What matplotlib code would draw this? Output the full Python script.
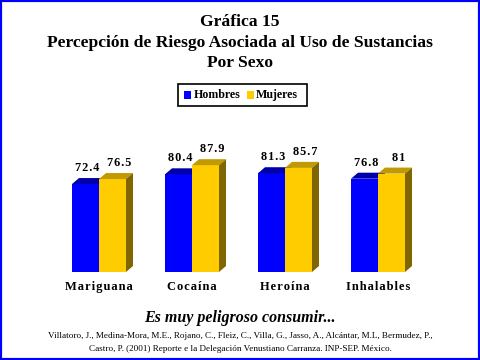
import matplotlib
matplotlib.use("Agg")
import matplotlib.pyplot as plt
from matplotlib.patches import Polygon, Rectangle
from matplotlib.transforms import IdentityTransform
import numpy as np

categories = ["Mariguana", "Cocaína", "Heroína", "Inhalables"]
hombres = [72.4, 80.4, 81.3, 76.8]
mujeres = [76.5, 87.9, 85.7, 81]
series_names = ["Hombres", "Mujeres"]
value_labels_h = ["72.4", "80.4", "81.3", "76.8"]
value_labels_m = ["76.5", "87.9", "85.7", "81"]

front = ["#0000FF", "#FFCC00"]
top = ["#0000AA", "#C09A00"]
side = ["#00008A", "#806600"]

SERIF = "Liberation Serif"
W, H = 480, 360
fig = plt.figure(figsize=(4.8, 3.6), dpi=100)
fig.patch.set_facecolor("white")

def spaced(s):
    return "\u200a".join(list(s))

ax = fig.add_axes([40 / W, (H - 272) / H, 400 / W, 121.5 / H])
ax.set_xlim(-59 / 93, 3 + 62 / 93)
ax.set_ylim(0, 100)
ax.axis("off")

bw = 27 / 93
x = np.arange(len(categories))
DX, DY = 7, 6  # depth in pixels

fig.canvas.draw()
for si, vals in enumerate([hombres, mujeres]):
    xs = x - bw + si * bw
    z = 3 + 2 * si
    ax.bar(xs, vals, width=bw, align="edge", color=front[si], linewidth=0, zorder=z)
    for xi, v in zip(xs, vals):
        p0 = ax.transData.transform((xi, v))
        p1 = ax.transData.transform((xi + bw, v))
        pb = ax.transData.transform((xi + bw, 0))
        topface = [p0, p1, p1 + [DX, DY], p0 + [DX, DY]]
        sideface = [pb, p1, p1 + [DX, DY], pb + [DX, DY]]
        ax.add_patch(Polygon(topface, closed=True, transform=IdentityTransform(),
                             facecolor=top[si], edgecolor="none", zorder=z + 0.5, clip_on=False))
        ax.add_patch(Polygon(sideface, closed=True, transform=IdentityTransform(),
                             facecolor=side[si], edgecolor="none", zorder=z + 0.5, clip_on=False))

# value labels
label_shift = [1.5, 7]
for si, (vals, labs) in enumerate([(hombres, value_labels_h), (mujeres, value_labels_m)]):
    xs = x - bw + si * bw + bw / 2
    for xi, v, lab in zip(xs, vals, labs):
        px, py = ax.transData.transform((xi, v))
        fig.text((px + label_shift[si]) / W, (py + DY + 7) / H, spaced(lab), ha="center",
                 va="baseline", fontsize=8.8, fontweight="bold", family=[SERIF, "DejaVu Sans"])

# category labels
for xi, c in zip(x, categories):
    px, _ = ax.transData.transform((xi, 0))
    fig.text(px / W, (H - 287) / H, spaced(c), ha="center", va="center",
             fontsize=9, fontweight="bold", family=[SERIF, "DejaVu Sans"])

# titles
for yy, t in [(22, "Gráfica 15"),
              (43, "Percepción de Riesgo Asociada al Uso de Sustancias"),
              (63, "Por Sexo")]:
    fig.text(0.5, (H - yy) / H, t, ha="center", va="center", fontsize=12.6,
             fontweight="bold", family=SERIF)

# legend
fig.patches.append(Rectangle((178 / W, (H - 106) / H), 129 / W, 22 / H, transform=fig.transFigure,
                             facecolor="white", edgecolor="black", linewidth=1.2))
fig.patches.append(Rectangle((184 / W, (H - 99) / H), 7 / W, 8 / H, transform=fig.transFigure,
                             facecolor=front[0], edgecolor="none"))
fig.text(194 / W, (H - 95) / H, series_names[0], ha="left", va="center", fontsize=8.6,
         fontweight="bold", family=SERIF)
fig.patches.append(Rectangle((247 / W, (H - 99) / H), 7 / W, 8 / H, transform=fig.transFigure,
                             facecolor=front[1], edgecolor="none"))
fig.text(256 / W, (H - 95) / H, series_names[1], ha="left", va="center", fontsize=8.6,
         fontweight="bold", family=SERIF)

# bottom texts
fig.text(0.5, (H - 318) / H, "Es muy peligroso consumir...", ha="center", va="center",
         fontsize=11.5, fontweight="bold", style="italic", family=SERIF)
fig.text(0.5, (H - 336) / H,
         "Villatoro, J., Medina-Mora, M.E., Rojano, C., Fleiz, C., Villa, G., Jasso, A., Alcántar, M.L, Bermudez, P.,",
         ha="center", va="center", fontsize=6.6, family=SERIF)
fig.text(0.5, (H - 349) / H,
         "Castro, P. (2001) Reporte e la Delegación Venustiano Carranza. INP-SEP. México.",
         ha="center", va="center", fontsize=6.6, family=SERIF)

# blue frame
fig.patches.append(Rectangle((0, 0), 1, 1, transform=fig.transFigure, facecolor="none",
                             edgecolor="#0000FF", linewidth=3))

fig.savefig("out.png", dpi=100)
